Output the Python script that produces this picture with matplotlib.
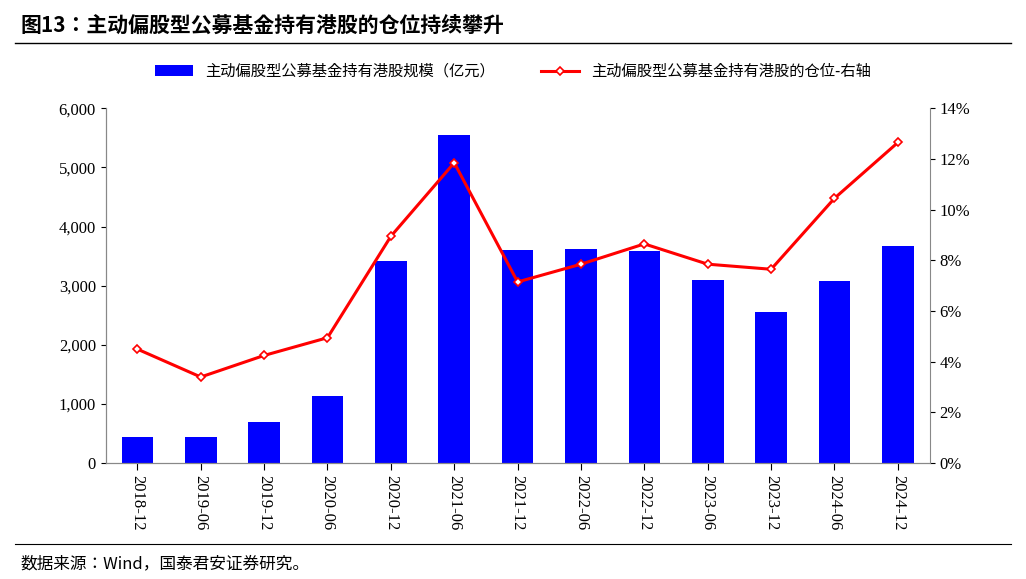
import matplotlib
matplotlib.use("Agg")
import matplotlib.pyplot as plt
from matplotlib.ticker import FuncFormatter

plt.rcParams["font.family"] = ["Noto Sans CJK SC", "Noto Sans CJK JP", "Noto Sans CJK TC", "DejaVu Sans"]

categories = ["2018-12","2019-06","2019-12","2020-06","2020-12","2021-06","2021-12",
              "2022-06","2022-12","2023-06","2023-12","2024-06","2024-12"]
scale = [440,440,700,1140,3420,5540,3600,3620,3590,3090,2560,3080,3670]
position = [4.5,3.4,4.25,4.95,8.95,11.85,7.15,7.85,8.65,7.85,7.65,10.45,12.65]

fig = plt.figure(figsize=(10.26,5.79), dpi=100)
ax = fig.add_axes([0.103, 0.2, 0.803, 0.613])
ax2 = ax.twinx()
x = range(len(categories))
b = ax.bar(x, scale, width=0.5, color="#0000FF", label="主动偏股型公募基金持有港股规模（亿元）")
l, = ax2.plot(x, position, color="#FF0000", lw=2.2, marker="D", ms=4.5,
              mfc="white", mec="#FF0000", mew=1.2, label="主动偏股型公募基金持有港股的仓位-右轴")
ax.set_ylim(0,6000); ax.set_yticks(range(0,6001,1000))
ax.yaxis.set_major_formatter(FuncFormatter(lambda v,p: f"{int(v):,}"))
ax2.set_ylim(0,14); ax2.set_yticks(range(0,15,2))
ax2.yaxis.set_major_formatter(FuncFormatter(lambda v,p: f"{int(v)}%"))
ax.set_xlim(-0.5, len(categories)-0.5)
ax.set_xticks(list(x)); ax.set_xticklabels(categories, rotation=-90, fontsize=12, family="Liberation Serif")
for a in (ax, ax2):
    a.spines["top"].set_visible(False)
    a.tick_params(labelsize=12)
    for t in a.get_yticklabels(): t.set_family("Liberation Serif")
ax.spines["right"].set_visible(False)
ax.tick_params(axis="x", length=5, direction="out")
for a in (ax, ax2):
    for sp in a.spines.values(): sp.set_color("#888888")
fig.legend(handles=[b,l], loc="upper center", bbox_to_anchor=(0.5,0.915), ncol=2,
           frameon=False, fontsize=11, handlelength=2.5, columnspacing=3)
fig.text(0.02,0.945,"图13：主动偏股型公募基金持有港股的仓位持续攀升", fontsize=15, weight="bold")
fig.add_artist(plt.Line2D([0.015,0.985],[0.925,0.925], color="black", lw=1))
fig.add_artist(plt.Line2D([0.015,0.985],[0.06,0.06], color="black", lw=0.8))
fig.text(0.02,0.018,"数据来源：Wind，国泰君安证券研究。", fontsize=12)
fig.savefig("out.png", dpi=100)
